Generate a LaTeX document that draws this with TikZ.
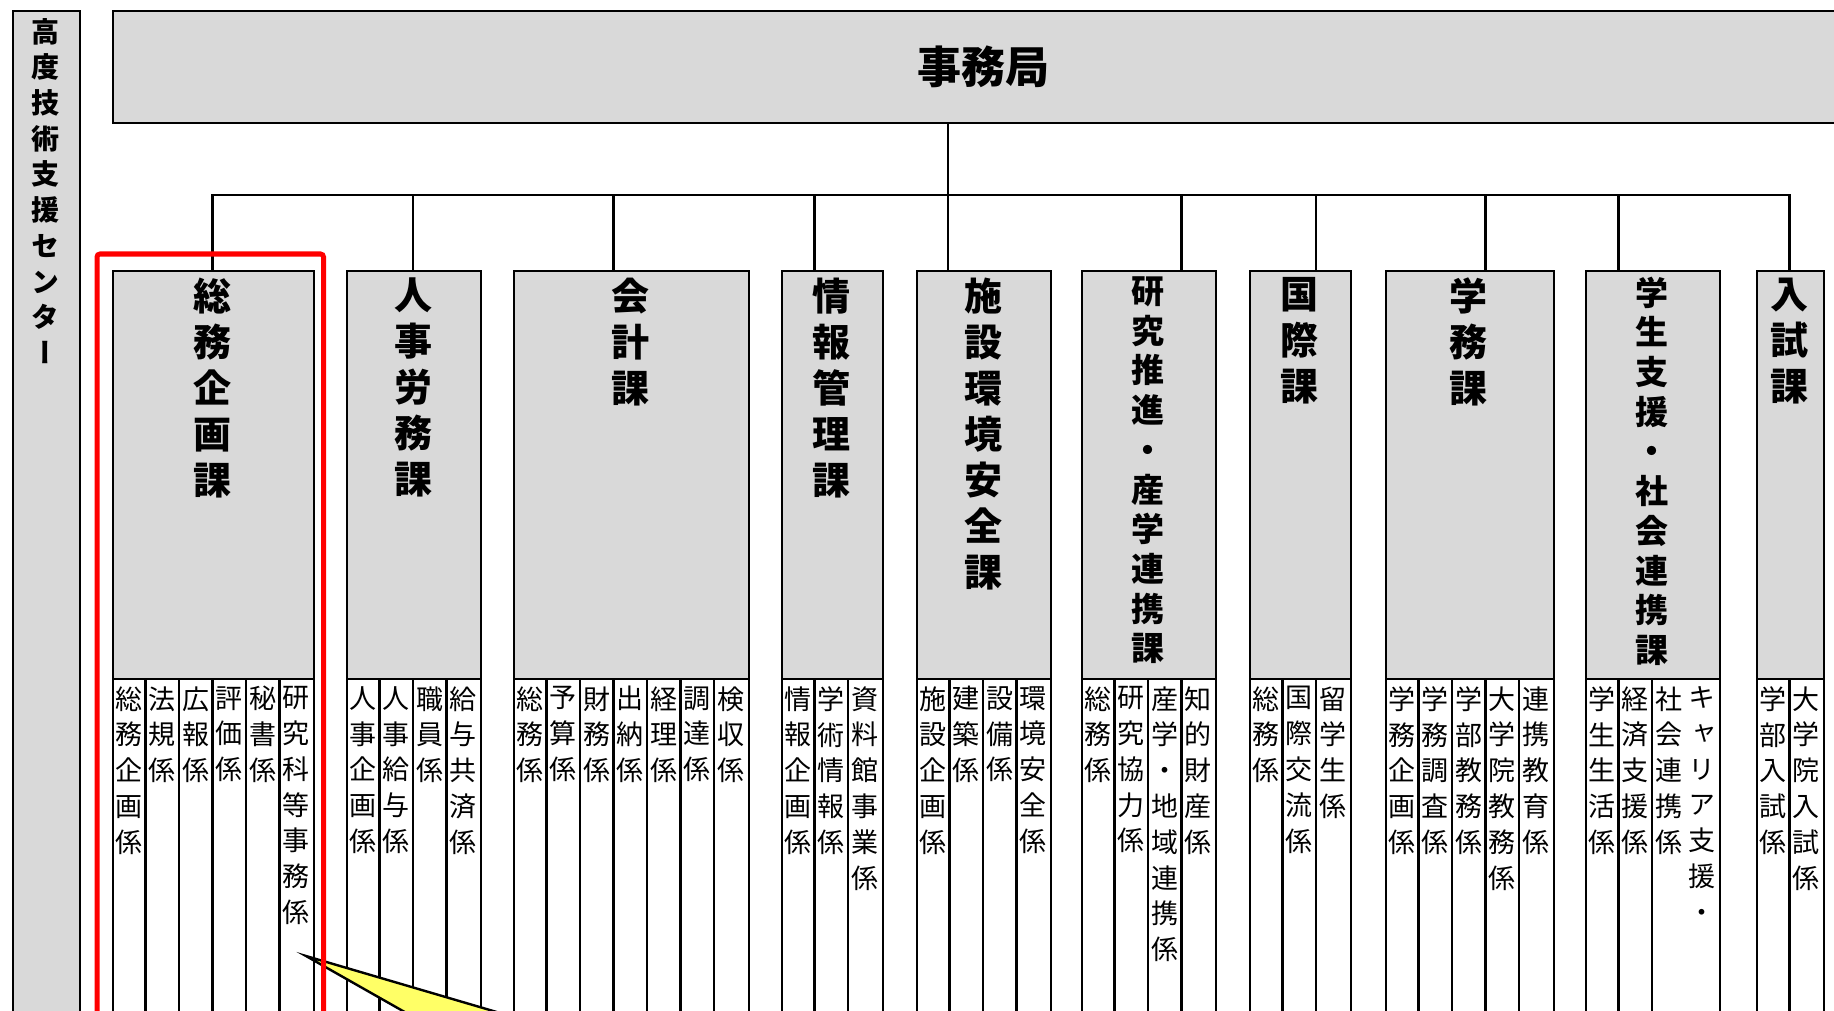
\documentclass[tikz,border=0pt]{standalone}
\usepackage{fontspec}
\newfontfamily\jp[RawFeature=+vert]{Noto Sans CJK JP}
\usetikzlibrary{calc}
\definecolor{boxgray}{HTML}{D9D9D9}
\definecolor{calloutyellow}{HTML}{FFFF66}
\def\uu{33.5}
\newcommand\deptbox[4]{% name, left, ncols, drop column
  \node[hdrbox, minimum width={#3*\uu}] (#1) at (#2,270) {};
  \node[subbox, minimum width={#3*\uu}] (#1-sub) at (#2,678) {};
  \coordinate (#1-t) at ({#2+#4*\uu},270);
}
\newcommand\subtxt[4]{\node[subtext] (#1) at ({#2+(#3-0.5)*\uu},685.2) {#4};}
\begin{document}
\begin{tikzpicture}[x=1pt,y=-1pt,line width=2.4pt,
  hdrbox/.style={draw, fill=boxgray, minimum height=408, inner sep=0, anchor=north west},
  subbox/.style={draw, fill=white, minimum height=400, inner sep=0, anchor=north west},
  vstack/.style={align=center, anchor=north, inner sep=0, execute at begin node={\rule{0pt}{0.88em}}},
  hdrtext/.style={vstack, font=\jp\bfseries\fontsize{38}{46}\selectfont},
  hdrtextsm/.style={vstack, font=\jp\bfseries\fontsize{33}{39.7}\selectfont},
  subtext/.style={vstack, font=\jp\fontsize{27}{35.8}\selectfont},
  sepline/.style={draw, line width=2.4pt},
  conn/.style={draw, line width=2.6pt}]
\clip (0,0) rectangle (1834,1011);
\fill[white] (0,0) rectangle (1834,1011);

% left centre box
\node[draw, fill=boxgray, minimum width=67, minimum height=1030, inner sep=0, anchor=north west] (kodo) at (12,10) {};
\node[vstack, font=\jp\bfseries\fontsize{28}{35.7}\selectfont] (kodo-txt) at (45.5,17) {高\\度\\技\\術\\支\\援\\セ\\ン\\タ\\ー};

% top box
\node[draw, fill=boxgray, minimum width=1740, minimum height=112, inner sep=0, anchor=north west,
      font=\jp\bfseries\fontsize{44}{50}\selectfont] (jimu) at (112,10) {事務局};

% departments
\deptbox{soumu}{112}{6}{3}
\deptbox{jinji}{346}{4}{2}
\deptbox{kaikei}{513}{7}{3}
\deptbox{jouhou}{781}{3}{1}
\deptbox{shisetsu}{916}{4}{0.96}
\deptbox{kenkyu}{1081}{4}{3}
\deptbox{kokusai}{1249}{3}{2}
\deptbox{gakumu}{1385}{5}{3}
\deptbox{gakusei}{1585}{4}{1}
\deptbox{nyushi}{1756}{2}{1}

% separators of the sub cells
\foreach \l/\js in {112/{1,2,3,4,5}, 346/{1,2,3}, 513/{1,2,3,4,5,6}, 781/{1,2}, 916/{1,2,3},
                    1081/{1,2,3}, 1249/{1,2}, 1385/{1,2,3,4}, 1585/{1,2}, 1756/{1}}
  \foreach \j in \js
    \draw[sepline] ({\l+\j*\uu},678) -- ({\l+\j*\uu},1040);

% header texts
\node[hdrtext] (soumu-h) at ({112+3*\uu},276.6) {総\\務\\企\\画\\課};
\node[hdrtext] (jinji-h) at ({346+2*\uu},276.6) {人\\事\\労\\務\\課};
\node[hdrtext] (kaikei-h) at ({513+3.5*\uu},276.6) {会\\計\\課};
\node[hdrtext] (jouhou-h) at ({781+1.5*\uu},276.6) {情\\報\\管\\理\\課};
\node[hdrtext] (shisetsu-h) at ({916+2*\uu},276.6) {施\\設\\環\\境\\安\\全\\課};
\node[hdrtextsm] (kenkyu-h) at ({1081+2*\uu},275.5) {研\\究\\推\\進\\・\\産\\学\\連\\携\\課};
\node[hdrtext] (kokusai-h) at ({1249+1.5*\uu},276.6) {国\\際\\課};
\node[hdrtext] (gakumu-h) at ({1385+2.5*\uu},276.6) {学\\務\\課};
\node[hdrtextsm] (gakusei-h) at ({1585+2*\uu},275.5) {学\\生\\支\\援\\・\\社\\会\\連\\携\\課};
\node[hdrtext] (nyushi-h) at ({1756+1*\uu},276.6) {入\\試\\課};

% sub texts
\subtxt{so1}{112}{1}{総\\務\\企\\画\\係}
\subtxt{so2}{112}{2}{法\\規\\係}
\subtxt{so3}{112}{3}{広\\報\\係}
\subtxt{so4}{112}{4}{評\\価\\係}
\subtxt{so5}{112}{5}{秘\\書\\係}
\subtxt{so6}{112}{6}{研\\究\\科\\等\\事\\務\\係}
\subtxt{ji1}{346}{1}{人\\事\\企\\画\\係}
\subtxt{ji2}{346}{2}{人\\事\\給\\与\\係}
\subtxt{ji3}{346}{3}{職\\員\\係}
\subtxt{ji4}{346}{4}{給\\与\\共\\済\\係}
\subtxt{ka1}{513}{1}{総\\務\\係}
\subtxt{ka2}{513}{2}{予\\算\\係}
\subtxt{ka3}{513}{3}{財\\務\\係}
\subtxt{ka4}{513}{4}{出\\納\\係}
\subtxt{ka5}{513}{5}{経\\理\\係}
\subtxt{ka6}{513}{6}{調\\達\\係}
\subtxt{ka7}{513}{7}{検\\収\\係}
\subtxt{jo1}{781}{1}{情\\報\\企\\画\\係}
\subtxt{jo2}{781}{2}{学\\術\\情\\報\\係}
\subtxt{jo3}{781}{3}{資\\料\\館\\事\\業\\係}
\subtxt{si1}{916}{1}{施\\設\\企\\画\\係}
\subtxt{si2}{916}{2}{建\\築\\係}
\subtxt{si3}{916}{3}{設\\備\\係}
\subtxt{si4}{916}{4}{環\\境\\安\\全\\係}
\subtxt{ke1}{1081}{1}{総\\務\\係}
\subtxt{ke2}{1081}{2}{研\\究\\協\\力\\係}
\subtxt{ke3}{1081}{3}{産\\学\\・\\地\\域\\連\\携\\係}
\subtxt{ke4}{1081}{4}{知\\的\\財\\産\\係}
\subtxt{ko1}{1249}{1}{総\\務\\係}
\subtxt{ko2}{1249}{2}{国\\際\\交\\流\\係}
\subtxt{ko3}{1249}{3}{留\\学\\生\\係}
\subtxt{ga1}{1385}{1}{学\\務\\企\\画\\係}
\subtxt{ga2}{1385}{2}{学\\務\\調\\査\\係}
\subtxt{ga3}{1385}{3}{学\\部\\教\\務\\係}
\subtxt{ga4}{1385}{4}{大\\学\\院\\教\\務\\係}
\subtxt{ga5}{1385}{5}{連\\携\\教\\育\\係}
\subtxt{gs1}{1585}{1}{学\\生\\生\\活\\係}
\subtxt{gs2}{1585}{2}{経\\済\\支\\援\\係}
\subtxt{gs3}{1585}{3}{社\\会\\連\\携\\係}
\subtxt{gs4}{1585}{4}{キ\\ャ\\リ\\ア\\支\\援\\・}
\subtxt{ny1}{1756}{1}{学\\部\\入\\試\\係}
\subtxt{ny2}{1756}{2}{大\\学\\院\\入\\試\\係}

% connectors
\coordinate (busy) at (0,195);
\draw[conn] (soumu-t) |- (nyushi-t |- busy) -- (nyushi-t);
\foreach \n in {jinji,kaikei,jouhou,kenkyu,kokusai,gakumu,gakusei}
  \draw[conn] (\n-t |- busy) -- (\n-t);
\draw[conn] (jimu.south -| shisetsu-t) -- (shisetsu-t);

% callout
\filldraw[fill=calloutyellow, draw=black, line width=2.4pt, line join=miter]
  (306,956) -- (454,1040) -- (592,1040) -- cycle;

% red highlight frame
\draw[red, line width=5pt, rounded corners=3pt] (97,1040) -- (97,254) -- (323.5,254) -- (323.5,1040);
\end{tikzpicture}
\end{document}
